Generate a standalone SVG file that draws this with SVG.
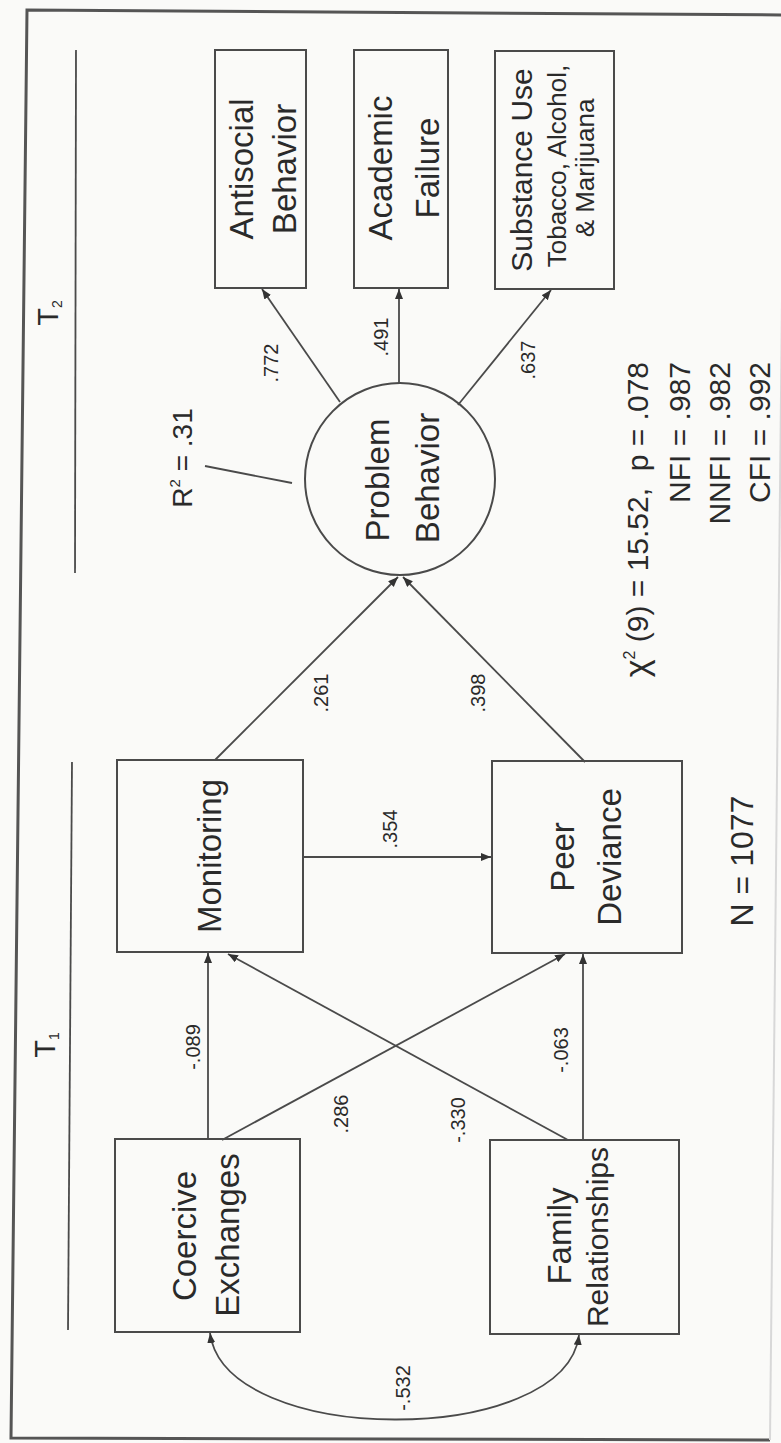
<svg xmlns="http://www.w3.org/2000/svg" width="781" height="1443" viewBox="0 0 781 1443">
<style>
.box{fill:none;stroke:#4a4a4a;stroke-width:2}
.edge{fill:none;stroke:#4a4a4a;stroke-width:1.8}
.t{font-family:"Liberation Sans",Arial,sans-serif;fill:#2a2a2a;text-anchor:middle}
.n{font-size:33px}
.s{font-size:26px}
.l{font-size:20px}
.st{font-size:30px;text-anchor:end}
</style>
<defs>
<marker id="ah" markerUnits="userSpaceOnUse" markerWidth="11" markerHeight="9" refX="10" refY="4" orient="auto-start-reverse">
<path d="M0,0 L10,4 L0,8 z" fill="#333"/>
</marker>
</defs>
<rect x="0" y="0" width="781" height="1443" fill="#fafaf8"/>
<g id="frame">
<path d="M785,15 L27,10 L11,1438 L770,1440" fill="none" stroke="#555" stroke-width="3"/>
<line x1="785" y1="15" x2="770" y2="1440" stroke="#d8d8d8" stroke-width="2"/>
</g>
<g id="time-labels">
<line x1="76" y1="50" x2="75" y2="573" class="edge"/>
<line x1="72" y1="762" x2="68" y2="1330" class="edge"/>
<text class="t" font-size="29" transform="translate(58,313) rotate(-90)">T<tspan font-size="14" dy="4">2</tspan></text>
<text class="t" font-size="29" transform="translate(55,1045) rotate(-90)">T<tspan font-size="14" dy="4">1</tspan></text>
</g>
<g id="connectors">
<line class="edge" x1="340" y1="402" x2="262" y2="289" marker-end="url(#ah)"/>
<line class="edge" x1="399" y1="383" x2="399" y2="289" marker-end="url(#ah)"/>
<line class="edge" x1="458" y1="405" x2="551" y2="290" marker-end="url(#ah)"/>
<line class="edge" x1="215" y1="760" x2="398" y2="577" marker-end="url(#ah)"/>
<line class="edge" x1="585" y1="762" x2="403" y2="577" marker-end="url(#ah)"/>
<line class="edge" x1="303" y1="857" x2="491" y2="857" marker-end="url(#ah)"/>
<line class="edge" x1="208" y1="1139" x2="208" y2="953" marker-end="url(#ah)"/>
<line class="edge" x1="222" y1="1140" x2="565" y2="954" marker-end="url(#ah)"/>
<line class="edge" x1="568" y1="1140" x2="228" y2="954" marker-end="url(#ah)"/>
<line class="edge" x1="583" y1="1140" x2="583" y2="954" marker-end="url(#ah)"/>
<path class="edge" d="M210,1333 C225,1448 565,1448 579,1335" marker-start="url(#ah)" marker-end="url(#ah)"/>
<line class="edge" x1="205" y1="466" x2="292" y2="483"/>
</g>
<g id="edge-labels">
<text class="t l" transform="translate(278,363) rotate(-90)">.772</text>
<text class="t l" transform="translate(388,337) rotate(-90)">.491</text>
<text class="t l" transform="translate(535,360) rotate(-90)">.637</text>
<text class="t l" transform="translate(328,693) rotate(-90)">.261</text>
<text class="t l" transform="translate(485,693) rotate(-90)">.398</text>
<text class="t l" transform="translate(397,829) rotate(-90)">.354</text>
<text class="t l" transform="translate(200,1047) rotate(-90)">-.089</text>
<text class="t l" transform="translate(568,1050) rotate(-90)">-.063</text>
<text class="t l" transform="translate(348,1114) rotate(-90)">.286</text>
<text class="t l" transform="translate(465,1120) rotate(-90)">-.330</text>
<text class="t l" transform="translate(410,1388) rotate(-90)">-.532</text>
</g>
<g id="antisocial">
<rect class="box" x="215" y="50" width="91" height="238"/>
<text class="t n" transform="translate(253,169) rotate(-90)">Antisocial</text>
<text class="t n" transform="translate(296,169) rotate(-90)">Behavior</text>
</g>
<g id="academic">
<rect class="box" x="354" y="50" width="94" height="238"/>
<text class="t n" transform="translate(392,168) rotate(-90)">Academic</text>
<text class="t n" transform="translate(439,168) rotate(-90)">Failure</text>
</g>
<g id="substance">
<rect class="box" x="495" y="51" width="119" height="238"/>
<text class="t" font-size="30" transform="translate(532,170) rotate(-90)">Substance Use</text>
<text class="t s" transform="translate(566,166) rotate(-90)">Tobacco, Alcohol,</text>
<text class="t s" transform="translate(594,168) rotate(-90)">&amp; Marijuana</text>
</g>
<g id="problem">
<ellipse class="box" cx="400" cy="479" rx="95" ry="96"/>
<text class="t n" transform="translate(389,480) rotate(-90)">Problem</text>
<text class="t n" transform="translate(439,478) rotate(-90)">Behavior</text>
</g>
<g id="r2">
<text class="t" font-size="28" transform="translate(192,458) rotate(-90)">R<tspan font-size="15" dy="-12">2</tspan><tspan dy="12"> = .31</tspan></text>
</g>
<g id="monitoring">
<rect class="box" x="117" y="760" width="186" height="192"/>
<text class="t n" transform="translate(221,856) rotate(-90)">Monitoring</text>
</g>
<g id="peer">
<rect class="box" x="492" y="761" width="190" height="192"/>
<text class="t n" transform="translate(574,857) rotate(-90)">Peer</text>
<text class="t n" transform="translate(621,857) rotate(-90)">Deviance</text>
</g>
<g id="coercive">
<rect class="box" x="115" y="1139" width="185" height="193"/>
<text class="t n" transform="translate(196,1236) rotate(-90)">Coercive</text>
<text class="t n" transform="translate(239,1235) rotate(-90)">Exchanges</text>
</g>
<g id="family">
<rect class="box" x="490" y="1140" width="189" height="194"/>
<text class="t n" transform="translate(571,1236) rotate(-90)">Family</text>
<text class="t" font-size="30" transform="translate(608,1237) rotate(-90)">Relationships</text>
</g>
<g id="fit-stats">
<text class="t st" transform="translate(648,362) rotate(-90)"><tspan font-size="34">χ</tspan><tspan font-size="16" dy="-13">2</tspan><tspan dy="13"> (9) = 15.52, &#160;p = .078</tspan></text>
<text class="t st" transform="translate(690,362) rotate(-90)">NFI = .987</text>
<text class="t st" transform="translate(730,362) rotate(-90)">NNFI = .982</text>
<text class="t st" transform="translate(770,362) rotate(-90)">CFI = .992</text>
<text class="t" font-size="32" transform="translate(753,861) rotate(-90)">N = 1077</text>
</g>
</svg>
